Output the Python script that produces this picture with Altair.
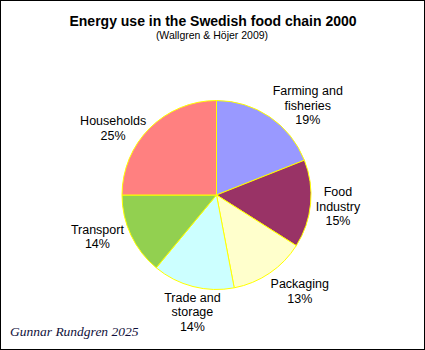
import altair as alt
import pandas as pd

categories = ["Farming and fisheries", "Food Industry", "Packaging",
              "Trade and storage", "Transport", "Households"]
label_lines = ["Farming and\nfisheries", "Food\nIndustry", "Packaging",
               "Trade  and\nstorage", "Transport", "Households"]
shares = [19, 15, 13, 14, 14, 25]
colors = ["#9999FF", "#993366", "#FFFFCC", "#CCFFFF", "#92D050", "#FF8080"]

title_text = "Energy use in the Swedish food chain 2000"
subtitle_text = "(Wallgren & Höjer 2009)"
footer_text = "Gunnar Rundgren 2025"

df = pd.DataFrame({
    "idx": list(range(len(categories))),
    "category": categories,
    "share": shares,
    "label": [f"{l}\n{s}%" for l, s in zip(label_lines, shares)],
})

CX, CY = 216.5, 195
R = 94.5
LABEL_R = 125
LH = 14.5

base = alt.Chart(df)

pie = base.mark_arc(radius=R, stroke="#FFFF00", strokeWidth=1).encode(
    theta=alt.Theta("share:Q", stack=True),
    color=alt.Color("category:N", scale=alt.Scale(domain=categories, range=colors), legend=None),
    order=alt.Order("idx:Q"),
    x=alt.value(CX),
    y=alt.value(CY),
)

offsets = {
    "Farming and fisheries": (21, 14),
    "Food Industry": (-3, 0),
    "Packaging": (13, -7),
    "Trade and storage": (7, -4),
    "Transport": (-6, -11),
    "Households": (-15, 22),
}

label_base = base.transform_window(
    cum="sum(share)", sort=[alt.SortField("idx")], frame=[None, 0]
).transform_joinaggregate(
    total="sum(share)"
).transform_calculate(
    mid="(datum.cum - datum.share / 2) / datum.total * 2 * PI"
)

label_layers = []
for cat, lines in zip(categories, label_lines):
    dx, dy = offsets[cat]
    n_lines = lines.count("\n") + 2
    dy = dy - (n_lines - 1) * LH / 2
    label_layers.append(
        label_base.transform_filter(alt.datum.category == cat).mark_text(
            radius=LABEL_R, dx=dx, dy=dy, lineBreak="\n", align="center",
            baseline="middle", font="Liberation Sans", fontSize=12.5,
            lineHeight=LH, color="black"
        ).encode(
            theta=alt.Theta("mid:Q", scale=None),
            x=alt.value(CX),
            y=alt.value(CY),
            text="label:N",
        )
    )

title = alt.Chart(pd.DataFrame({"t": [title_text]})).mark_text(
    font="Liberation Sans", fontSize=14, fontWeight="bold", align="center",
    baseline="alphabetic", color="black"
).encode(x=alt.value(213), y=alt.value(25.5), text="t:N")

subtitle = alt.Chart(pd.DataFrame({"t": [subtitle_text]})).mark_text(
    font="Liberation Sans", fontSize=10.5, align="center",
    baseline="alphabetic", color="black"
).encode(x=alt.value(212), y=alt.value(39), text="t:N")

footer = alt.Chart(pd.DataFrame({"t": [footer_text]})).mark_text(
    font="Liberation Serif", fontSize=13.5, fontStyle="italic", align="left",
    baseline="alphabetic", color="#10103a"
).encode(x=alt.value(10), y=alt.value(336), text="t:N")

chart = alt.layer(pie, *label_layers, title, subtitle, footer).resolve_scale(
    theta="independent"
).properties(
    width=425, height=350, padding=0, autosize=alt.AutoSizeParams(type="none"),
    background="white"
).configure_view(stroke="black", strokeWidth=2)

chart.save("out.html", embed_options={"renderer": "svg", "actions": False})
